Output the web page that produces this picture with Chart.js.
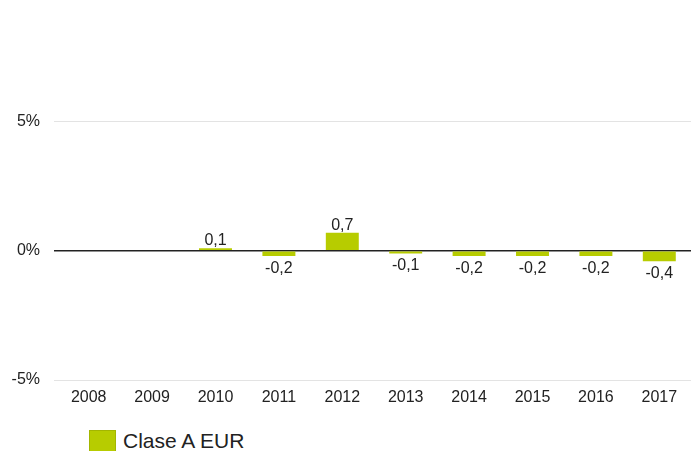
<!DOCTYPE html>
<html lang="es">
<head>
<meta charset="UTF-8">
<title>Rentabilidad anual</title>
<script src="https://cdn.jsdelivr.net/npm/chart.js"></script>
<style>
  body { margin: 0; background: #fff; font-family: "Liberation Sans", Arial, sans-serif; }
  #wrap { position: relative; width: 694px; height: 451px; }
  #legend { position: absolute; left: 89px; top: 429px; display: flex; align-items: center; font-size: 21px; color: #222; }
  #legend span.box { display: inline-block; width: 25px; height: 20px; background: #b7cc00; border: 1px solid #a3b600; margin-right: 7px; }
</style>
</head>
<body>
<div id="wrap">
  <canvas id="myChart" width="694" height="415"></canvas>
  <div id="legend"><span class="box"></span><span id="legendText"></span></div>
</div>
<script>
const years = ['2008', '2009', '2010', '2011', '2012', '2013', '2014', '2015', '2016', '2017'];
const claseA = [null, null, 0.1, -0.2, 0.7, -0.1, -0.2, -0.2, -0.2, -0.4];
const yTicks = [-5, 0, 5];
const seriesName = 'Clase A EUR';

document.getElementById('legendText').textContent = seriesName;

// etiquetas de valor encima / debajo de cada barra
const valueLabels = {
    id: 'valueLabels',
    afterDatasetsDraw(chart) {
        const ctx = chart.ctx;
        const meta = chart.getDatasetMeta(0);
        ctx.save();
        ctx.font = '16px "Liberation Sans", Arial, sans-serif';
        ctx.fillStyle = '#222';
        ctx.textAlign = 'center';
        ctx.textBaseline = 'alphabetic';
        meta.data.forEach((bar, i) => {
            const v = claseA[i];
            if (v === null) return;
            const txt = v.toFixed(1).replace('.', ',');
            const y = v >= 0 ? bar.y - 3 : bar.y + 17;
            ctx.fillText(txt, bar.x, y);
        });
        ctx.restore();
    }
};

const ctx = document.getElementById('myChart').getContext('2d');
new Chart(ctx, {
    type: 'bar',
    data: {
        labels: years,
        datasets: [{
            label: seriesName,
            data: claseA,
            backgroundColor: '#b7cc00',
            categoryPercentage: 1,
            barPercentage: 0.52
        }]
    },
    options: {
        responsive: false,
        animation: false,
        layout: { padding: { top: 3, right: 3, left: 0, bottom: 0 } },
        plugins: {
            legend: { display: false },
            tooltip: { enabled: false }
        },
        scales: {
            x: {
                grid: { display: false, drawTicks: false },
                border: { display: false },
                ticks: {
                    padding: 8,
                    color: '#222',
                    font: { family: '"Liberation Sans", Arial, sans-serif', size: 16 }
                },
                afterFit(scale) { scale.height = 35; }
            },
            y: {
                min: -5,
                max: 8.8,
                afterBuildTicks(scale) { scale.ticks = yTicks.map(v => ({ value: v })); },
                afterFit(scale) { scale.width = 57; },
                border: { display: false },
                grid: {
                    color: (c) => c.tick && c.tick.value === 0 ? '#222' : '#e3e3e3',
                    lineWidth: (c) => c.tick && c.tick.value === 0 ? 1.5 : 1,
                    tickLength: 3,
                    tickColor: (c) => c.tick && c.tick.value === 0 ? '#222' : '#e3e3e3'
                },
                ticks: {
                    padding: 14,
                    color: '#222',
                    font: { family: '"Liberation Sans", Arial, sans-serif', size: 16 },
                    callback: (v) => v + '%'
                }
            }
        }
    },
    plugins: [valueLabels]
});
</script>
</body>
</html>
